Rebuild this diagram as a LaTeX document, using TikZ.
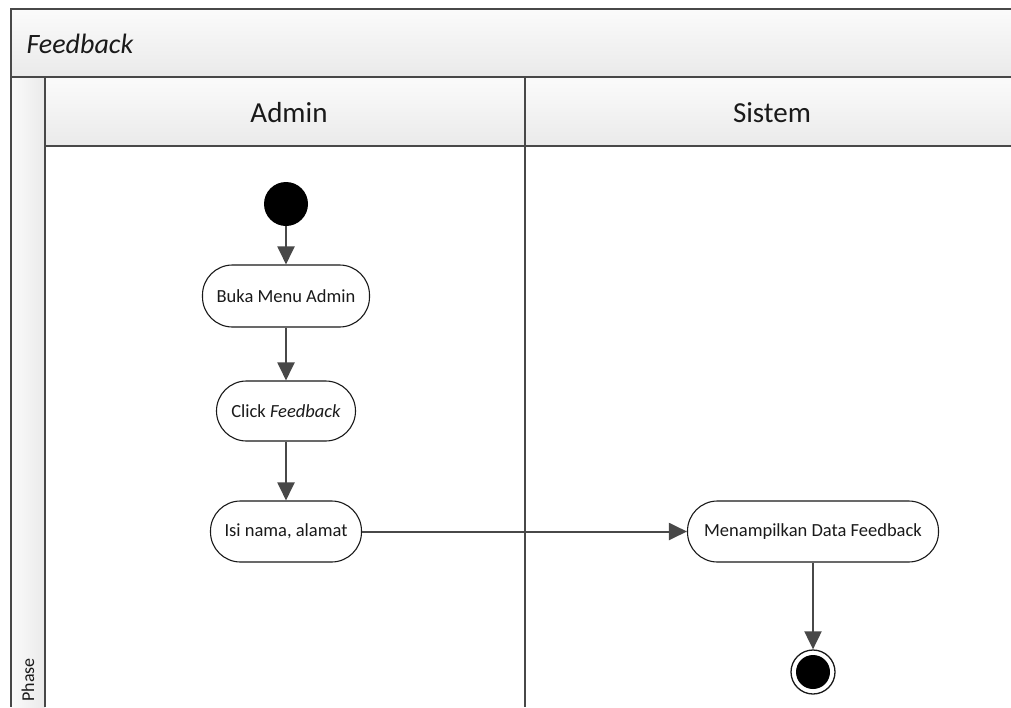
\documentclass[tikz,border=0pt]{standalone}
\usepackage{fontspec}
\setmainfont{Carlito}
\usetikzlibrary{arrows.meta}
\definecolor{frameline}{HTML}{484848}
\definecolor{ink}{HTML}{1A1A1A}
\definecolor{headtop}{HTML}{FBFBFB}
\definecolor{headbot}{HTML}{EAEAEA}
\tikzset{
  lane/.style={draw=frameline, line width=2pt},
  act/.style={draw=ink, line width=1.1pt, fill=white, rounded corners=30pt,
    minimum height=62pt, inner sep=0pt, text=ink, font=\fontsize{18.5}{20}\selectfont},
  flow/.style={draw=frameline, line width=2pt, -{Triangle[width=17pt,length=18pt]}},
  headtext/.style={text=ink, font=\fontsize{29}{32}\selectfont},
}
\begin{document}
\begin{tikzpicture}[x=1pt,y=-1pt]
\useasboundingbox (0,0) rectangle (1011,707);
\fill[white] (0,0) rectangle (1011,707);

% title bar and lane headers
\shade[top color=headtop, bottom color=headbot] (11,9) rectangle (1011,77);
\shade[top color=headtop, bottom color=headbot] (45,77) rectangle (1011,146);
\shade[left color=headtop, right color=headbot] (11,77) rectangle (45,707);

\draw[lane] (1011,9) -- (11,9) -- (11,707);
\draw[lane] (11,77) -- (1011,77);
\draw[lane] (45,77) -- (45,707);
\draw[lane] (45,146) -- (1011,146);
\draw[lane] (525,77) -- (525,707);

\node[anchor=west, text=ink, font=\fontsize{28}{30}\selectfont\itshape] (title) at (23,44) {Feedback};
\node[headtext] (hadmin) at (289,113) {Admin};
\node[headtext] (hsistem) at (772,113) {Sistem};
\node[rotate=90, anchor=west, text=ink, font=\fontsize{18}{20}\selectfont] (phase) at (28,705) {Phase};

% activity flow
\node[circle, fill=black, minimum size=44pt, inner sep=0pt] (start) at (286,204) {};
\node[act, minimum width=167pt] (buka) at (286,296) {Buka Menu Admin};
\node[act, minimum width=139pt, minimum height=60pt] (click) at (286,411) {Click \textit{Feedback}};
\node[act, minimum width=151pt, minimum height=61pt] (isi) at (286,531.5) {Isi nama, alamat};
\node[act, minimum width=251pt, minimum height=61pt] (tampil) at (813,531.5) {Menampilkan Data Feedback};
\node[circle, draw=ink, line width=1.3pt, fill=white, minimum size=44pt, inner sep=0pt] (end) at (813,672) {};
\fill[black] (end.center) circle (17);

\draw[flow] (start) -- (buka);
\draw[flow] (buka) -- (click);
\draw[flow] (click) -- (isi);
\draw[flow] (isi) -- (tampil);
\draw[flow] (tampil) -- (end);
\end{tikzpicture}
\end{document}
